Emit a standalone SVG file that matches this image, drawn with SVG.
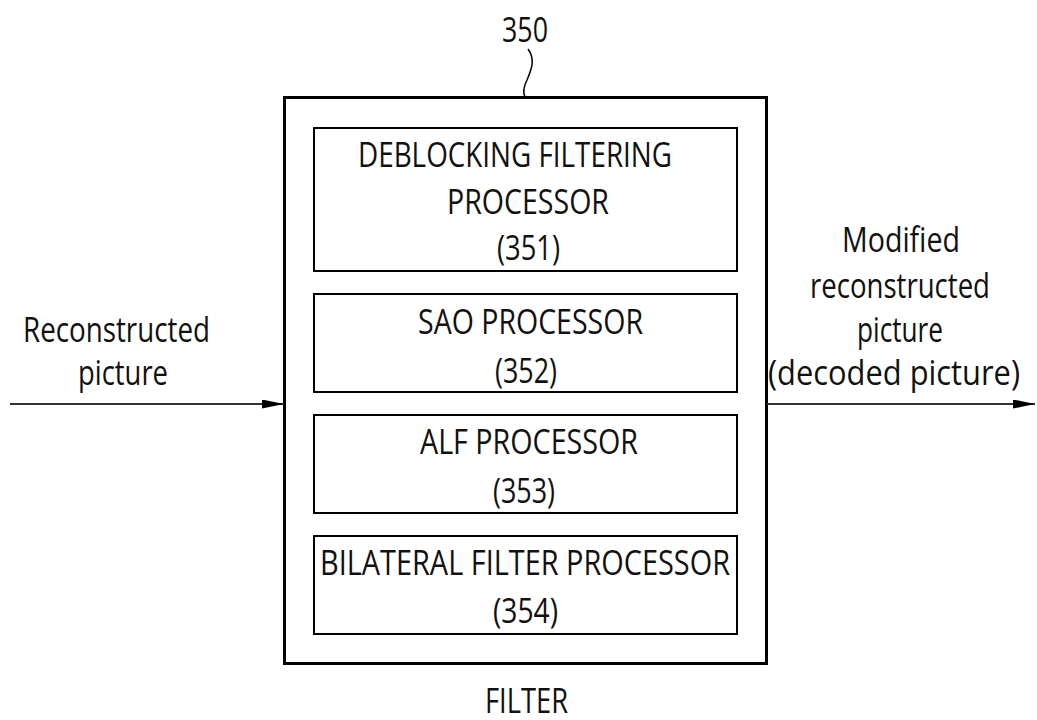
<svg xmlns="http://www.w3.org/2000/svg" width="1037" height="720" viewBox="0 0 1037 720">
<style>
text{font-family:"Open Sans","Liberation Sans",sans-serif;font-size:35px;font-weight:400;fill:#111;}
.outer{fill:none;stroke:#000;stroke-width:3;}
.box{fill:none;stroke:#000;stroke-width:2;}
.conn{fill:none;stroke:#333;stroke-width:2;}
</style>
<defs>
<marker id="arr" markerWidth="22" markerHeight="9" refX="22" refY="4.5" orient="auto" markerUnits="userSpaceOnUse">
<path d="M0,0 L22,4.5 L0,9 Z" fill="#000"/>
</marker>
</defs>
<rect width="1037" height="720" fill="#fff"/>
<g id="filter">
<rect class="outer" x="284.5" y="97.5" width="482" height="566"/>
<text x="485" y="713" textLength="83" lengthAdjust="spacingAndGlyphs">FILTER</text>
</g>
<g id="ref350">
<text x="502" y="42" textLength="46" lengthAdjust="spacingAndGlyphs">350</text>
<path d="M528,49 C536,60 531,70 527,80 C523,88 523,93 525,97" fill="none" stroke="#000" stroke-width="1.5"/>
</g>
<g id="p351">
<rect class="box" x="314" y="128" width="423" height="143"/>
<text x="358" y="167" textLength="314" lengthAdjust="spacingAndGlyphs">DEBLOCKING FILTERING</text>
<text x="447" y="214" textLength="162" lengthAdjust="spacingAndGlyphs">PROCESSOR</text>
<text x="497" y="260" textLength="63" lengthAdjust="spacingAndGlyphs">(351)</text>
</g>
<g id="p352">
<rect class="box" x="314" y="294" width="423" height="98"/>
<text x="418" y="334" textLength="225" lengthAdjust="spacingAndGlyphs">SAO PROCESSOR</text>
<text x="495" y="383" textLength="62" lengthAdjust="spacingAndGlyphs">(352)</text>
</g>
<g id="p353">
<rect class="box" x="314" y="415" width="423" height="98"/>
<text x="420" y="454" textLength="218" lengthAdjust="spacingAndGlyphs">ALF PROCESSOR</text>
<text x="493" y="503" textLength="62" lengthAdjust="spacingAndGlyphs">(353)</text>
</g>
<g id="p354">
<rect class="box" x="314" y="536" width="423" height="98"/>
<text x="320" y="575" textLength="410" lengthAdjust="spacingAndGlyphs">BILATERAL FILTER PROCESSOR</text>
<text x="493" y="623" textLength="65" lengthAdjust="spacingAndGlyphs">(354)</text>
</g>
<g id="input">
<text x="23" y="342" textLength="187" lengthAdjust="spacingAndGlyphs">Reconstructed</text>
<text x="78" y="385" textLength="90" lengthAdjust="spacingAndGlyphs">picture</text>
</g>
<g id="output">
<text x="842" y="252" textLength="118" lengthAdjust="spacingAndGlyphs">Modified</text>
<text x="810" y="298" textLength="180" lengthAdjust="spacingAndGlyphs">reconstructed</text>
<text x="857" y="342" textLength="86" lengthAdjust="spacingAndGlyphs">picture</text>
<text x="768" y="385" textLength="252" lengthAdjust="spacingAndGlyphs">(decoded picture)</text>
</g>
<g id="connectors">
<line class="conn" x1="10" y1="404" x2="284" y2="404" marker-end="url(#arr)"/>
<line class="conn" x1="767" y1="404" x2="1035" y2="404" marker-end="url(#arr)"/>
</g>
</svg>
